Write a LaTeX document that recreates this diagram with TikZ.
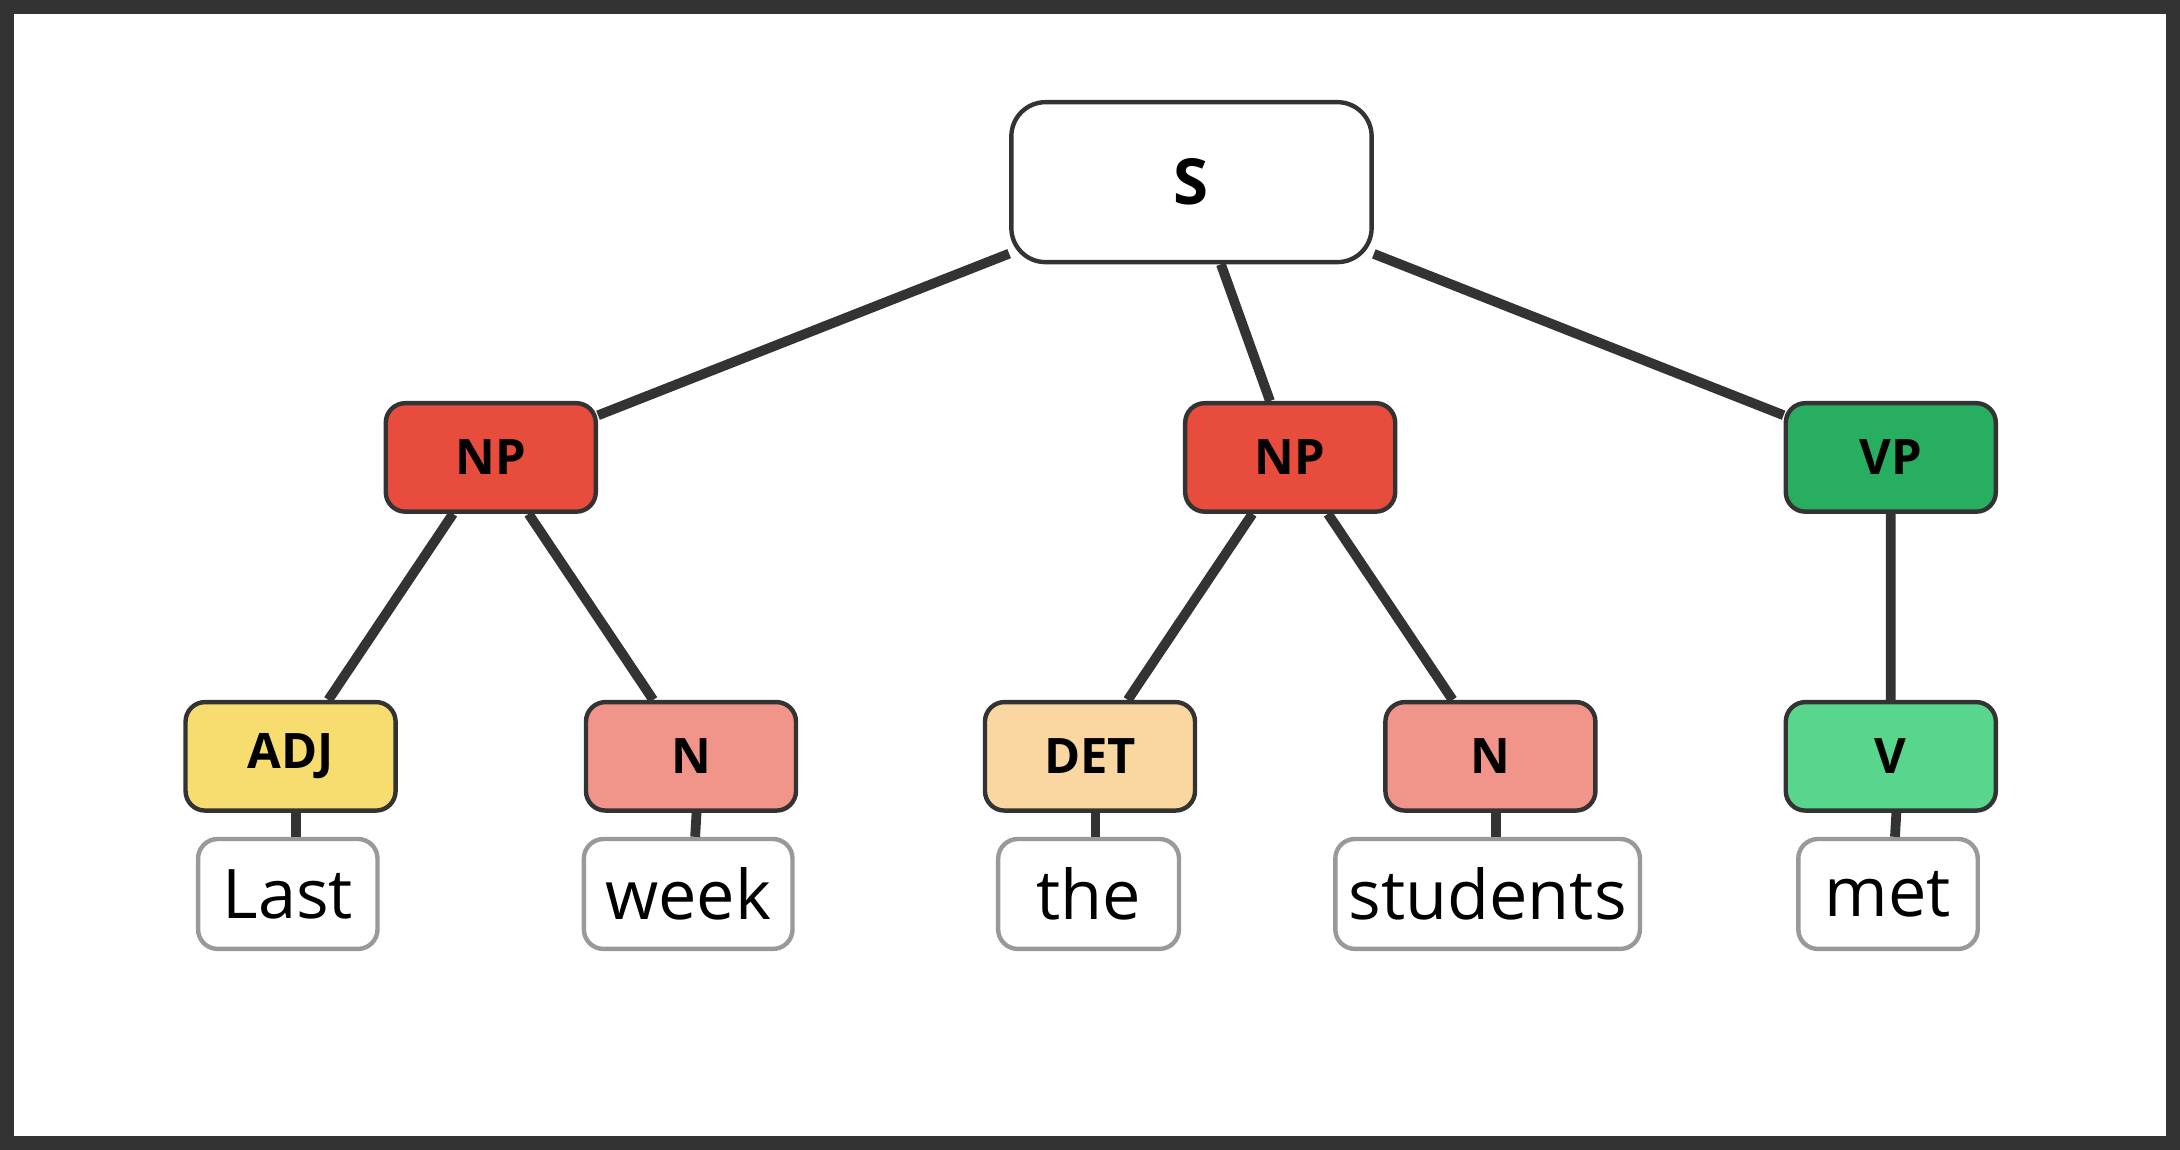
\documentclass[tikz,border=0pt]{standalone}
\usepackage{fontspec}
\setmainfont{Open Sans}
\definecolor{edgegray}{HTML}{333333}
\definecolor{npred}{HTML}{E74C3C}
\definecolor{vpgreen}{HTML}{27AE60}
\definecolor{adjyellow}{HTML}{F7DC6F}
\definecolor{npink}{HTML}{F1948A}
\definecolor{detorange}{HTML}{FAD7A0}
\definecolor{vgreen}{HTML}{58D68D}
\tikzset{
  tag/.style={draw=edgegray, line width=0.9pt, rounded corners=4pt,
    minimum width=1.51cm, minimum height=0.78cm, font=\bfseries\fontsize{10}{12}\selectfont},
  word/.style={draw=black!40, fill=white, line width=0.9pt, rounded corners=4pt,
    minimum height=0.79cm, inner sep=0pt, font=\fontsize{14}{16}\selectfont},
  branch/.style={draw=edgegray, line width=2pt},
}
\begin{document}
\begin{tikzpicture}[x=0.01cm,y=-0.01cm]
  \draw[edgegray, line width=2.8pt, fill=white] (5,5) rectangle (1563,822);
  \useasboundingbox (0,0) rectangle (1568,827);

  % tree nodes
  \node[tag, fill=white, minimum width=2.59cm, minimum height=1.15cm, rounded corners=7pt,
    font=\bfseries\fontsize{13}{15}\selectfont] (s) at (857,131) {S};
  \node[tag, fill=npred] (np1) at (353,329) {NP};
  \node[tag, fill=npred] (np2) at (928,329) {NP};
  \node[tag, fill=vpgreen] (vp) at (1360,329) {VP};
  \node[tag, fill=adjyellow] (adj) at (209,544) {ADJ};
  \node[tag, fill=npink] (n1) at (497,544) {N};
  \node[tag, fill=detorange] (det) at (784,544) {DET};
  \node[tag, fill=npink] (n2) at (1072,544) {N};
  \node[tag, fill=vgreen] (v) at (1360,544) {V};

  % words
  \node[word, minimum width=1.29cm] (last) at (207,643) {Last};
  \node[word, minimum width=1.50cm] (week) at (495,643) {week};
  \node[word, minimum width=1.30cm] (the) at (783,643) {the};
  \node[word, minimum width=2.19cm] (students) at (1070,643) {students};
  \node[word, minimum width=1.29cm] (met) at (1358,643) {met};

  % branches
  \begin{scope}[on background layer/.style={}]
  \end{scope}
  \begin{pgfinterruptboundingbox}\end{pgfinterruptboundingbox}
  \path[branch] (s) -- (np1) (s) -- (np2) (s) -- (vp);
  \path[branch] (np1) -- (adj) (np1) -- (n1) (np2) -- (det) (np2) -- (n2) (vp) -- (v);
  \path[branch] (adj.south) ++(4,0) -- (last.north -| 213,0) ;
  \path[branch] (n1.south) ++(4,0) -- (week.north -| 500,0);
  \path[branch] (det.south) ++(4,0) -- (the.north -| 788,0);
  \path[branch] (n2.south) ++(4,0) -- (students.north -| 1076,0);
  \path[branch] (v.south) ++(4,0) -- (met.north -| 1363,0);
\end{tikzpicture}
\end{document}
